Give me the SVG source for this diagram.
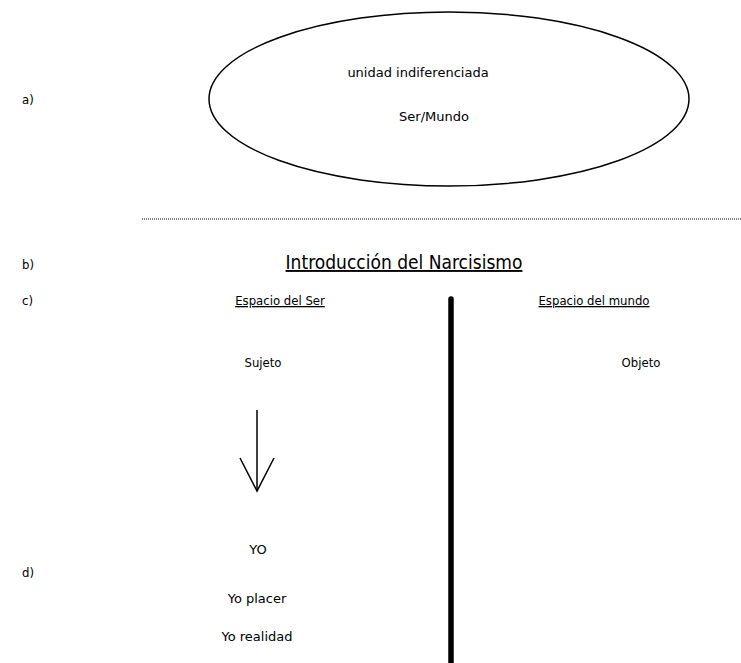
<svg xmlns="http://www.w3.org/2000/svg" width="741" height="663" viewBox="0 0 741 663">
<style>
.v{font-family:"DejaVu Sans",Verdana,sans-serif;font-size:13px;fill:#000}
.n{font-family:"Liberation Sans Narrow","DejaVu Sans Condensed","Liberation Sans",sans-serif;font-size:13px;fill:#000}
.t{font-family:"Liberation Sans Narrow","DejaVu Sans Condensed","Liberation Sans",sans-serif;font-size:19px;fill:#000}
.m{text-anchor:middle}
</style>
<rect width="741" height="663" fill="#fff"/>
<g id="labels">
<text class="n" x="22" y="104">a)</text>
<text class="n" x="22" y="269">b)</text>
<text class="n" x="22" y="305">c)</text>
<text class="n" x="22" y="577">d)</text>
</g>
<g id="unidad">
<ellipse cx="449" cy="99" rx="240" ry="87" fill="none" stroke="#000" stroke-width="1.5"/>
<text class="v m" x="418" y="77">unidad indiferenciada</text>
<text class="v m" x="434" y="121">Ser/Mundo</text>
</g>
<g id="separator">
<line x1="142" y1="219" x2="741" y2="219" stroke="#000" stroke-width="1" stroke-dasharray="1 1"/>
</g>
<g id="titulo">
<text class="t m" x="404" y="269" text-decoration="underline">Introducción del Narcisismo</text>
</g>
<g id="espacio-ser">
<text class="n m" x="280" y="305" text-decoration="underline">Espacio del Ser</text>
</g>
<g id="espacio-mundo">
<text class="n m" x="594" y="305" text-decoration="underline">Espacio del mundo</text>
</g>
<g id="sujeto">
<text class="n m" x="263" y="367">Sujeto</text>
</g>
<g id="objeto">
<text class="n m" x="641" y="367">Objeto</text>
</g>
<g id="yo">
<text class="v m" x="258" y="554">YO</text>
<text class="v m" x="257" y="603">Yo placer</text>
<text class="v m" x="257" y="641">Yo realidad</text>
</g>
<g id="connectors">
<line x1="451" y1="299" x2="451" y2="663" stroke="#000" stroke-width="5.5" stroke-linecap="round"/>
<line x1="257" y1="410" x2="257" y2="491" stroke="#000" stroke-width="1.5"/>
<polyline points="240,458 257,491 274,458" fill="none" stroke="#000" stroke-width="1.5"/>
</g>
</svg>
